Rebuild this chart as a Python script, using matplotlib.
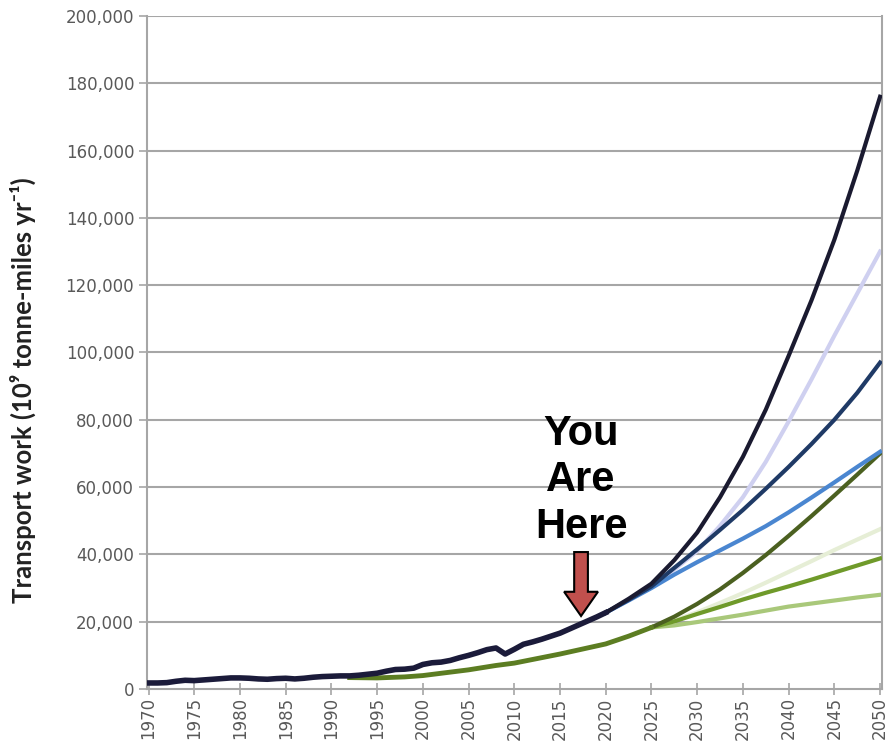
import matplotlib
matplotlib.use("Agg")
import matplotlib.pyplot as plt
import matplotlib.patches as mpatches
from matplotlib.ticker import FuncFormatter

# ── Data ──────────────────────────────────────────────────────────────────
hist_years = list(range(1970, 2021))
hist_values = [1800, 1800, 1900, 2300, 2600, 2500, 2700, 2900, 3100, 3300,
               3300, 3200, 3000, 2900, 3100, 3200, 3000, 3200, 3500, 3700,
               3800, 3900, 3900, 4100, 4400, 4700, 5300, 5800, 5900, 6200,
               7300, 7800, 8000, 8500, 9300, 10000, 10800, 11700, 12200, 10400,
               11800, 13300, 14000, 14800, 15700, 16600, 17800, 19000, 20200,
               21400, 22700]

green_hist_years = [1992, 1995, 1998, 2000, 2005, 2008, 2010, 2015, 2020, 2022.5, 2025]
green_hist_values = [3400, 3300, 3600, 4000, 5700, 7000, 7700, 10400, 13400, 15700, 18300]

proj_years = [2020, 2022.5, 2025, 2027.5, 2030, 2032.5, 2035, 2037.5, 2040,
              2042.5, 2045, 2047.5, 2050]
proj_black = [22700, 26800, 31300, 38300, 46500, 57000, 69000, 83000, 99000,
              115500, 133500, 154000, 176000]
proj_lavender = [22700, 26500, 30500, 35500, 41000, 48500, 57000, 67500, 79500,
                 92000, 105000, 117500, 130000]
proj_navy = [22700, 26500, 30500, 36000, 41500, 47300, 53200, 59500, 66000,
             72800, 80000, 88000, 97000]
proj_blue = [22700, 26300, 30000, 34000, 37700, 41200, 44700, 48400, 52500,
             56900, 61400, 66000, 70500]

green_years = [2025, 2027.5, 2030, 2032.5, 2035, 2037.5, 2040, 2042.5, 2045,
               2047.5, 2050]
proj_olive = [18300, 21500, 25300, 29600, 34500, 39800, 45500, 51400, 57500,
              63700, 70000]
proj_pale = [18300, 20400, 22800, 25600, 28500, 31600, 34800, 38000, 41300,
             44400, 47500]
proj_mid = [18300, 20100, 22300, 24400, 26600, 28600, 30500, 32500, 34600,
            36700, 38800]
proj_light = [18300, 18900, 19900, 21000, 22100, 23300, 24500, 25400, 26300,
              27200, 28000]

x_ticks = list(range(1970, 2051, 5))
y_ticks = list(range(0, 200001, 20000))

# ── Figure ────────────────────────────────────────────────────────────────
fig = plt.figure(figsize=(8.89, 7.5), dpi=100)
ax = fig.add_axes([0.165, 0.0813, 0.827, 0.8974])

grid_c = "#a6a6a6"
for yv in y_ticks[1:]:
    ax.axhline(yv, color=grid_c, linewidth=1.5, zorder=0)

ax.plot(proj_years, proj_lavender, color="#cfd0f0", linewidth=3, zorder=2)
ax.plot(green_years, proj_pale, color="#e6eed6", linewidth=3, zorder=2)
ax.plot(green_years, proj_light, color="#a9c87a", linewidth=3, zorder=2)
ax.plot(green_years, proj_mid, color="#6f9a2a", linewidth=3, zorder=3)
ax.plot(green_years, proj_olive, color="#4b6020", linewidth=3, zorder=3)
ax.plot(green_hist_years, green_hist_values, color="#5c7d22", linewidth=3.5, zorder=3)
ax.plot(proj_years, proj_blue, color="#4a86d0", linewidth=3, zorder=4)
ax.plot(proj_years, proj_navy, color="#1f3a66", linewidth=3, zorder=4)
ax.plot(proj_years, proj_black, color="#1a1a30", linewidth=3, zorder=5)
ax.plot(hist_years, hist_values, color="#1b1b3a", linewidth=4, zorder=5)

# "You Are Here" marker
ax.text(2017.3, 62000, "You\nAre\nHere", ha="center", va="center",
        fontsize=30, fontweight="bold", family="Liberation Sans",
        linespacing=1.22, color="black", zorder=6)
arrow = mpatches.FancyArrow(2017.3, 40700, 0, -19000, width=1.5,
                            head_width=3.7, head_length=7200,
                            length_includes_head=True,
                            facecolor="#c0504d", edgecolor="black",
                            linewidth=1.5, zorder=7)
ax.add_patch(arrow)

ax.set_xlim(1969.8, 2050.2)
ax.set_ylim(0, 200000)
ax.set_xticks(x_ticks)
ax.set_yticks(y_ticks)
ax.yaxis.set_major_formatter(FuncFormatter(lambda v, _: f"{v:,.0f}"))

ax.spines["top"].set_visible(False)
for side in ("left", "bottom", "right"):
    ax.spines[side].set_color(grid_c)
    ax.spines[side].set_linewidth(1.5)

ax.tick_params(axis="x", direction="inout", length=8, width=1.2,
               color=grid_c, labelrotation=90, labelsize=12,
               labelcolor="#595959", pad=2)
ax.tick_params(axis="y", direction="out", length=6, width=1.2,
               color=grid_c, labelsize=12, labelcolor="#595959", pad=3)

ax.set_ylabel("Transport work (10\u2079 tonne-miles yr\u207b\u00b9)",
              fontsize=18.5, fontweight="bold", color="#222222",
              family=["Lato", "DejaVu Sans"])
ax.yaxis.set_label_coords(-0.151, 0.444)

fig.savefig("out.png", dpi=100)
